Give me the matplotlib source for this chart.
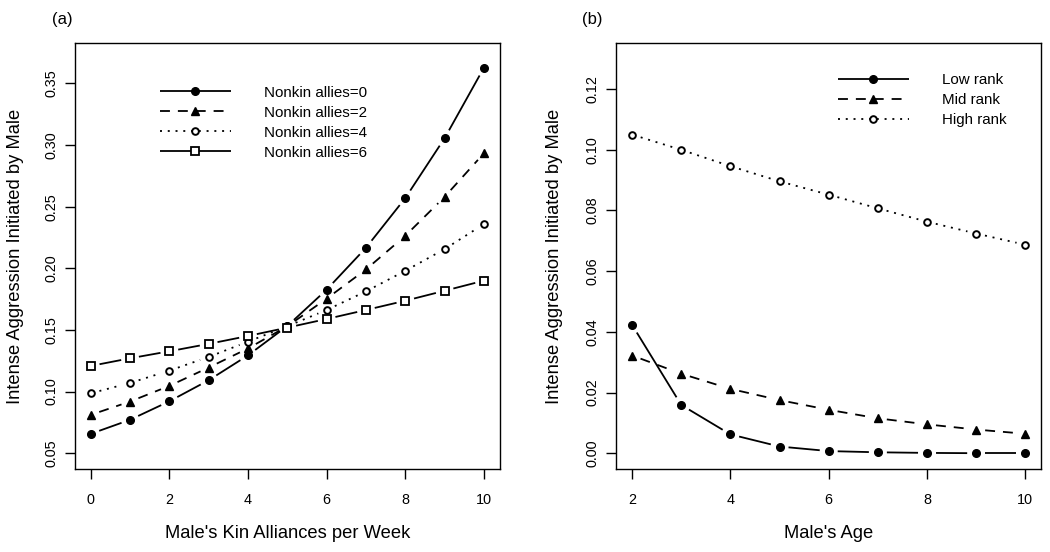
import matplotlib
matplotlib.use('Agg')
import matplotlib.pyplot as plt
import numpy as np
from matplotlib.lines import Line2D

plt.rcParams['font.family'] = ['Liberation Sans', 'DejaVu Sans']

# panel (a): kin alliances per week vs intense aggression
kin = np.arange(0, 11)
allies_0 = [0.0657, 0.0771, 0.0921, 0.1092, 0.1294, 0.1532, 0.1827, 0.2167, 0.2570, 0.3056, 0.3628]
allies_2 = [0.0811, 0.0919, 0.1046, 0.1195, 0.1350, 0.1530, 0.1754, 0.1991, 0.2264, 0.2580, 0.2934]
allies_4 = [0.0986, 0.1070, 0.1170, 0.1281, 0.1405, 0.1530, 0.1662, 0.1813, 0.1980, 0.2156, 0.2359]
allies_6 = [0.1208, 0.1270, 0.1327, 0.1387, 0.1451, 0.1519, 0.1589, 0.1662, 0.1737, 0.1818, 0.1900]
labels_a = ['Nonkin allies=0', 'Nonkin allies=2', 'Nonkin allies=4', 'Nonkin allies=6']

# panel (b): age vs intense aggression
age = np.arange(2, 11)
low_rank = [0.0423, 0.0159, 0.0062, 0.0022, 0.0007, 0.0003, 0.0001, 0.0000, 0.0000]
mid_rank = [0.0322, 0.0262, 0.0212, 0.0175, 0.0143, 0.0115, 0.0095, 0.0078, 0.0064]
high_rank = [0.1050, 0.1000, 0.0946, 0.0896, 0.0852, 0.0807, 0.0763, 0.0724, 0.0687]
labels_b = ['Low rank', 'Mid rank', 'High rank']

LW = 1.3
solid = (0, ())
dashed = (0, (5.5, 4.4))
dotted = (0, (1.1, 3.2))

styles = [
    dict(ls=solid, marker='o', mfc='black', ms=5.5, mew=1.0),
    dict(ls=dashed, marker='^', mfc='black', ms=6, mew=1.0),
    dict(ls=dotted, marker='o', mfc='white', ms=4.8, mew=1.4),
    dict(ls=solid, marker='s', mfc='white', ms=5.2, mew=1.3),
]


def type_b(ax, x, y, st, gap=9):
    # R style type="b": segments stop short of the points
    tr = ax.transData
    pts = tr.transform(np.column_stack([x, y]))
    for p0, p1 in zip(pts[:-1], pts[1:]):
        d = p1 - p0
        L = np.hypot(*d)
        if L <= 2 * gap:
            continue
        u = d / L
        seg = tr.inverted().transform([p0 + u * gap, p1 - u * gap])
        ax.plot(seg[:, 0], seg[:, 1], color='black', lw=LW, ls=st['ls'],
                solid_capstyle='butt', dash_capstyle='butt')
    ax.plot(x, y, ls='none', marker=st['marker'], mfc=st['mfc'], mec='black',
            ms=st['ms'], mew=st['mew'], zorder=3)


def handles(n):
    return [Line2D([0], [0], color='black', lw=LW, ls=s['ls'], marker=s['marker'],
                   mfc=s['mfc'], mec='black', ms=s['ms'], mew=s['mew'])
            for s in styles[:n]]


fig = plt.figure(figsize=(10.5, 5.52), dpi=100)
ax1 = fig.add_axes([0.0714, 0.1504, 0.4045, 0.7717])
ax2 = fig.add_axes([0.5870, 0.1504, 0.4045, 0.7717])

ax1.set_xlim(-0.4, 10.4)
ax1.set_ylim(0.0372, 0.3828)
ax2.set_xlim(1.68, 10.32)
ax2.set_ylim(-0.0052, 0.1352)

for ys, st in zip([allies_0, allies_2, allies_4, allies_6], styles):
    type_b(ax1, kin, ys, st)
for ys, st in zip([low_rank, mid_rank, high_rank], styles):
    type_b(ax2, age, ys, st)

ax1.set_xticks([0, 2, 4, 6, 8, 10])
ax1.set_yticks(np.arange(0.05, 0.36, 0.05))
ax1.set_yticklabels(['%.2f' % v for v in np.arange(0.05, 0.36, 0.05)])
ax2.set_xticks([2, 4, 6, 8, 10])
ax2.set_yticks(np.arange(0.0, 0.121, 0.02))
ax2.set_yticklabels(['%.2f' % v for v in np.arange(0.0, 0.121, 0.02)])

for ax in (ax1, ax2):
    for sp in ax.spines.values():
        sp.set_linewidth(1.0)
    ax.tick_params(axis='both', direction='out', length=7, width=1.0, labelsize=10.4)
    ax.tick_params(axis='x', pad=10)
    ax.tick_params(axis='y', pad=5)
    for t in ax.get_yticklabels():
        t.set_rotation(90)
        t.set_va('center')
    ax.set_ylabel('Intense Aggression Initiated by Male', fontsize=13.2, va='center')

ax1.set_xlabel("Male's Kin Alliances per Week", fontsize=13.2, va='center')
ax2.set_xlabel("Male's Age", fontsize=13.2, va='center')
ax1.xaxis.set_label_coords(0.5, -(534 - 469) / 426)
ax2.xaxis.set_label_coords(0.5, -(534 - 469) / 426)
ax1.yaxis.set_label_coords(-0.139, 0.5)
ax2.yaxis.set_label_coords(-0.145, 0.5)

leg_kw = dict(frameon=False, loc='upper left', handlelength=4.7, handletextpad=2.2,
              borderpad=0, borderaxespad=0, labelspacing=0.4, fontsize=10.9)
ax1.legend(handles(4), labels_a, bbox_to_anchor=(0.200, 0.900), **leg_kw)
ax2.legend(handles(3), labels_b, bbox_to_anchor=(0.521, 0.929), **leg_kw)

fig.text(0.059, 0.9638, '(a)', fontsize=12, ha='center', va='center')
fig.text(0.5643, 0.9638, '(b)', fontsize=12, ha='center', va='center')

fig.savefig('out.png', dpi=100)
